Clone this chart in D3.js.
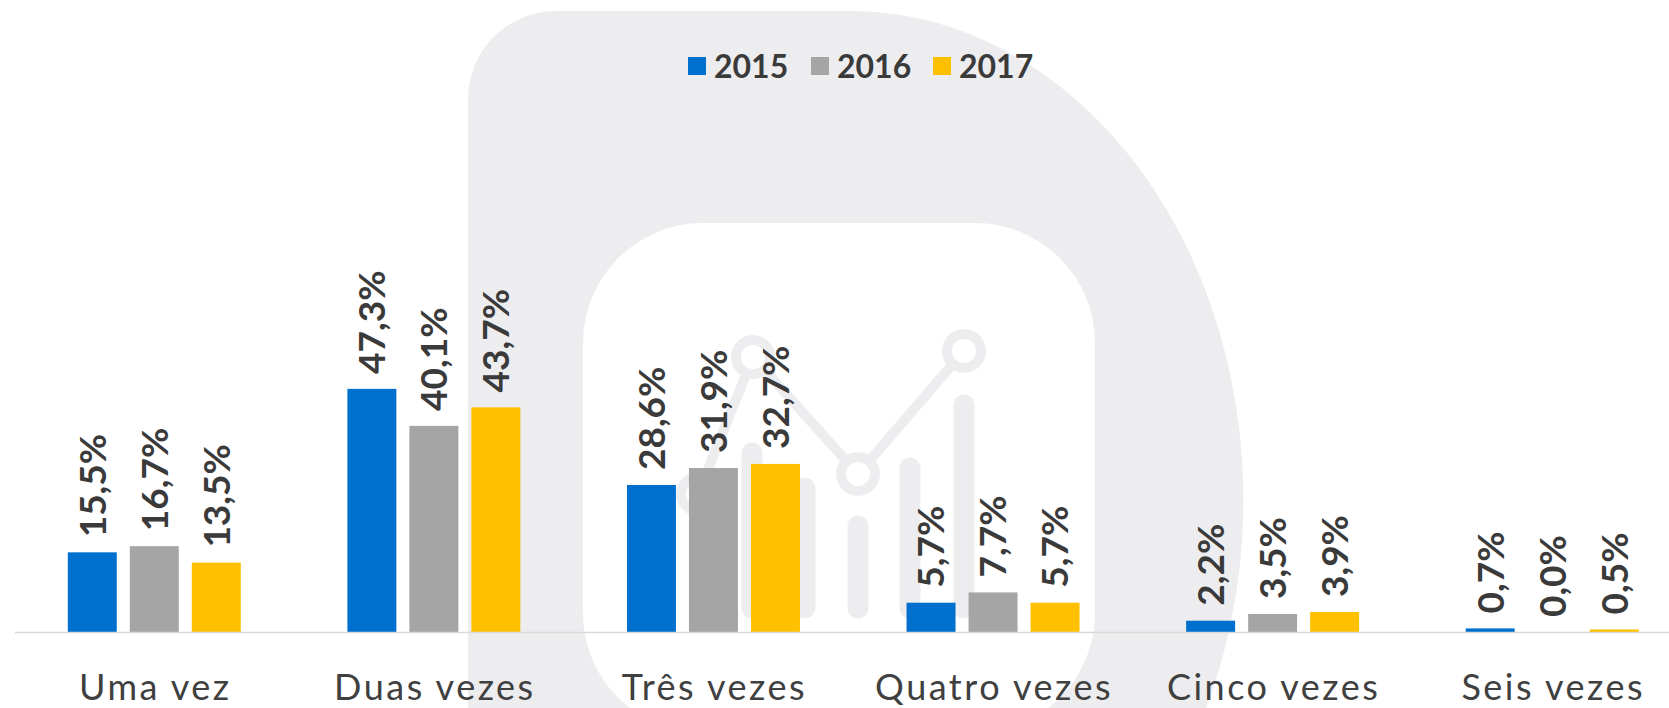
<!DOCTYPE html>
<html>
<head>
<meta charset="utf-8">
<script src="https://cdn.jsdelivr.net/npm/d3@7"></script>
<style>
  html, body { margin: 0; padding: 0; background: #fff; }
  svg { display: block; }
  .axis text { font-family: Lato, sans-serif; font-size: 36px; fill: #404040; letter-spacing: 2.5px; }
  .value { font-family: Lato, sans-serif; font-weight: bold; font-size: 37px; fill: #3a3a3a; }
  .legend text { font-family: Lato, sans-serif; font-weight: bold; font-size: 32px; fill: #3a3a3a; }
</style>
</head>
<body>
<div id="chart"></div>
<script>
const width = 1669;
const height = 708;

// data
const categories = ["Uma vez", "Duas vezes", "Três vezes", "Quatro vezes", "Cinco vezes", "Seis vezes"];
const years = ["2015", "2016", "2017"];
const values2015 = [15.5, 47.3, 28.6, 5.7, 2.2, 0.7];
const values2016 = [16.7, 40.1, 31.9, 7.7, 3.5, 0.0];
const values2017 = [13.5, 43.7, 32.7, 5.7, 3.9, 0.5];
const colors = ["#0070ce", "#a5a5a5", "#ffc000"];

const series = [values2015, values2016, values2017];
const rows = categories.map((c, i) => ({
  category: c,
  values: years.map((y, j) => ({ year: y, value: series[j][i] }))
}));

const svg = d3.select("#chart")
  .append("svg")
  .attr("width", width)
  .attr("height", height);

// background watermark (decoration only)
const deco = svg.append("g").attr("fill", "#ededf0");
deco.append("path")
  .attr("d", "M468,708 L468,99 A88,88 0 0 1 556,11 L850,11 A393,489 0 0 1 1206,708 Z");
deco.append("rect")
  .attr("x", 583).attr("y", 223)
  .attr("width", 512).attr("height", 510)
  .attr("rx", 120).attr("ry", 120)
  .attr("fill", "#fff");

const icon = svg.append("g")
  .attr("stroke", "#ededf0")
  .attr("stroke-linecap", "round")
  .attr("fill", "none");
[[752, 443], [805, 478], [858, 516], [910, 458], [964, 395]].forEach(([cx, top]) => {
  icon.append("line")
    .attr("x1", cx).attr("x2", cx)
    .attr("y1", top + 10).attr("y2", 608)
    .attr("stroke-width", 21);
});
const pts = [[698, 494], [753, 357], [858, 474], [964, 351]];
icon.append("path")
  .attr("d", d3.line()(pts))
  .attr("stroke-width", 10);
pts.forEach(([cx, cy]) => {
  icon.append("circle")
    .attr("cx", cx).attr("cy", cy).attr("r", 17)
    .attr("fill", "#fff")
    .attr("stroke-width", 10);
});

// scales
const x0 = d3.scaleBand()
  .domain(categories)
  .range([14.5, 1692])
  .paddingInner(0)
  .paddingOuter(0);

const x1 = d3.scaleBand()
  .domain(years)
  .range([x0.bandwidth() / 2 - 93, x0.bandwidth() / 2 + 93])
  .paddingInner(0.21)
  .paddingOuter(0.105);

const y = d3.scaleLinear()
  .domain([0, 50])
  .range([632, 375]);

const color = d3.scaleOrdinal().domain(years).range(colors);

const locale = d3.formatLocale({ decimal: ",", thousands: ".", grouping: [3], currency: ["", ""] });
const fmt = locale.format(".1f");

// bars
const groups = svg.append("g")
  .selectAll("g")
  .data(rows)
  .join("g")
  .attr("transform", d => `translate(${x0(d.category)},0)`);

groups.selectAll("rect")
  .data(d => d.values)
  .join("rect")
  .attr("x", d => x1(d.year))
  .attr("y", d => y(d.value))
  .attr("width", x1.bandwidth())
  .attr("height", d => y(0) - y(d.value))
  .attr("fill", d => color(d.year));

// axis
const axis = svg.append("g")
  .attr("class", "axis")
  .attr("transform", `translate(0,${y(0)})`)
  .call(d3.axisBottom(x0).tickSize(0).tickPadding(0));
axis.select(".domain")
  .attr("stroke", "#d9d9d9")
  .attr("stroke-width", 1.5);
axis.selectAll("text")
  .attr("y", 68)
  .attr("dy", 0)
  .attr("dx", 1);

// value labels
groups.selectAll("text.value")
  .data(d => d.values)
  .join("text")
  .attr("class", "value")
  .attr("transform", d => `translate(${x1(d.year) + x1.bandwidth() / 2},${y(d.value) - 15}) rotate(-90)`)
  .attr("dy", "0.36em")
  .attr("text-anchor", "start")
  .text(d => fmt(d.value) + "%");

// legend
const legendX = [688, 811, 933];
const legend = svg.append("g").attr("class", "legend");
const items = legend.selectAll("g")
  .data(years)
  .join("g")
  .attr("transform", (d, i) => `translate(${legendX[i]},0)`);
items.append("rect")
  .attr("x", 0).attr("y", 57)
  .attr("width", 18).attr("height", 18)
  .attr("fill", d => color(d));
items.append("text")
  .attr("x", 26).attr("y", 78)
  .text(d => d);
</script>
</body>
</html>
